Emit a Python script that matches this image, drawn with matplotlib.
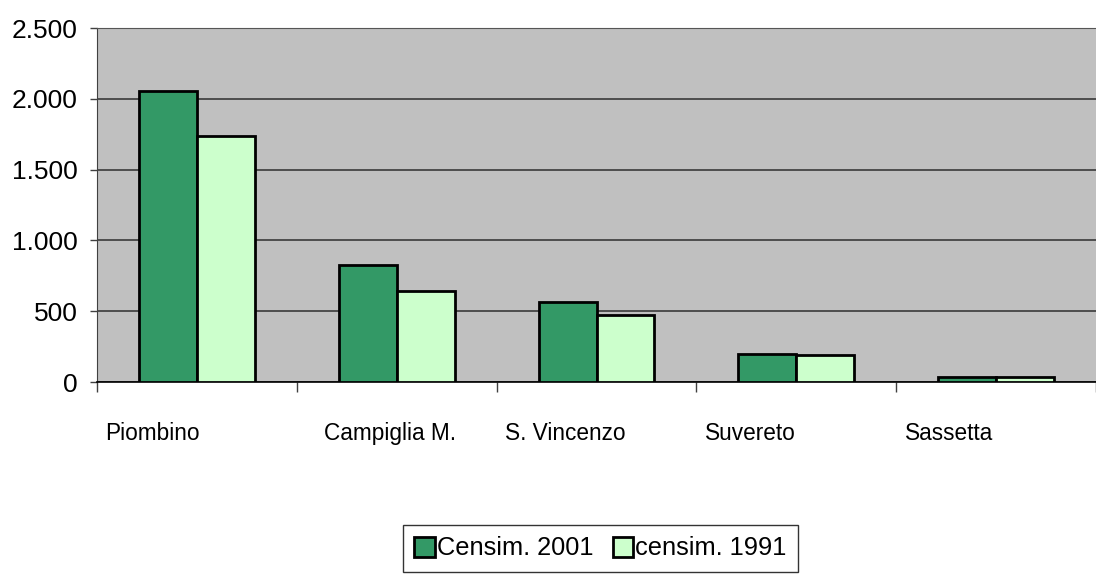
import matplotlib
matplotlib.use("Agg")
import matplotlib.pyplot as plt
from matplotlib import font_manager
from matplotlib.ticker import FixedLocator, FuncFormatter
import numpy as np

categories = ["Piombino", "Campiglia M.", "S. Vincenzo", "Suvereto", "Sassetta"]
censim_2001 = [2055, 824, 563, 197, 33]
censim_1991 = [1739, 643, 472, 190, 32]
series_labels = ["Censim. 2001", "censim. 1991"]
y_ticks = [0, 500, 1000, 1500, 2000, 2500]

names = {f.name for f in font_manager.fontManager.ttflist}
if "Liberation Sans Narrow" in names:
    FONT = "Liberation Sans Narrow"
    FS = 22
else:
    FONT = "Liberation Sans"
    FS = 19
plt.rcParams["font.family"] = [FONT, "DejaVu Sans"]

W, H = 1096, 578
fig = plt.figure(figsize=(W / 100, H / 100), dpi=100)
ax = fig.add_axes([97 / W, 1 - 382 / H, (W - 97) / W, (382 - 28) / H])
ax.set_facecolor("#C0C0C0")

x = np.arange(len(categories))
bw = 0.29
ax.bar(x - bw / 2, censim_2001, bw, color="#339966", edgecolor="black", linewidth=2, label=series_labels[0], zorder=3)
ax.bar(x + bw / 2, censim_1991, bw, color="#CCFFCC", edgecolor="black", linewidth=2, label=series_labels[1], zorder=3)

ax.set_xlim(-0.5, len(categories) - 0.5)
ax.set_ylim(0, 2500)
ax.yaxis.set_major_locator(FixedLocator(y_ticks))
ax.yaxis.set_major_formatter(FuncFormatter(lambda v, p: f"{int(v):,}".replace(",", ".")))
ax.grid(axis="y", color="#3a3a3a", linewidth=1.2, zorder=1)
ax.tick_params(axis="y", labelsize=FS, length=5, width=1, color="#404040", pad=9)

ax.set_xticks(np.arange(len(categories) + 1) - 0.5)
ax.set_xticklabels([])
ax.tick_params(axis="x", length=7, width=1, color="#404040")

offsets = [0.04, 0.135, 0.04, 0.045, 0.045]
for i, (c, o) in enumerate(zip(categories, offsets)):
    ax.text(i - 0.5 + o, -0.145, c, transform=ax.get_xaxis_transform(), ha="left", va="center", fontsize=FS * 0.86)

ax.spines["right"].set_visible(False)
ax.spines["top"].set_color("#555555")
ax.spines["left"].set_color("#404040")
ax.spines["bottom"].set_color("black")
ax.spines["bottom"].set_linewidth(1.2)

leg = fig.legend(loc="upper left", bbox_to_anchor=(403 / W, 1 - 525 / H), ncol=2,
                 fontsize=FS * 0.96, frameon=True, fancybox=False, edgecolor="black",
                 handlelength=0.8, handleheight=0.85, handletextpad=0.1,
                 columnspacing=0.75, borderpad=0.45, borderaxespad=0)
leg.get_frame().set_linewidth(1)

fig.savefig("out.png", dpi=100)
